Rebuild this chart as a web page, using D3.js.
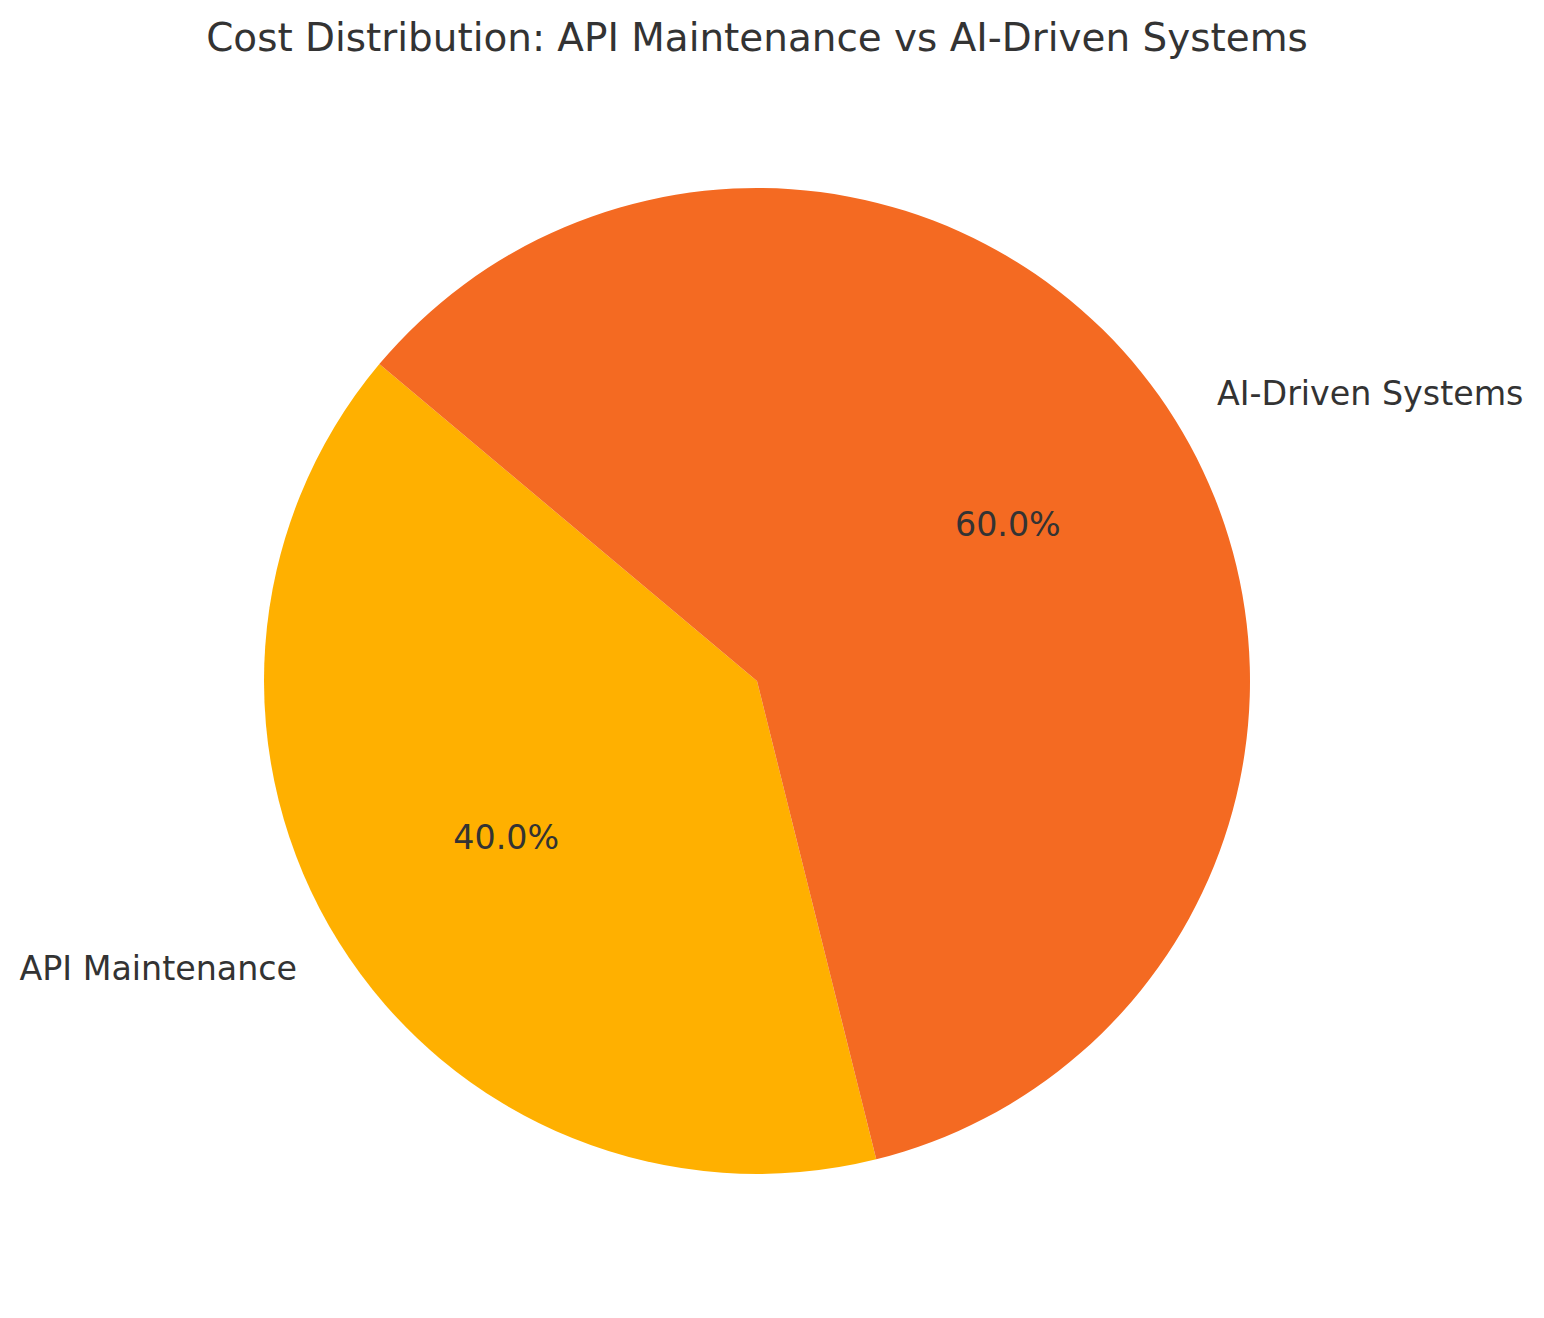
<!DOCTYPE html>
<html>
<head>
<meta charset="utf-8">
<style>
  body { margin: 0; background: #fff; }
  text { font-family: "DejaVu Sans", sans-serif; fill: #333333; }
</style>
</head>
<body>
<svg width="1544" height="1318"></svg>
<script src="https://cdn.jsdelivr.net/npm/d3@7"></script>
<script>
// data
var categories = ["API Maintenance", "AI-Driven Systems"];
var values = [40, 60];
var colors = ["#FFB000", "#F46A22"];

var svg = d3.select("svg");
var cx = 757, cy = 681, radius = 493;
var startDeg = 140; // matplotlib style start angle, counter-clockwise

svg.append("text")
  .attr("x", cx)
  .attr("y", 51)
  .attr("text-anchor", "middle")
  .style("font-size", "38.9px")
  .text("Cost Distribution: API Maintenance vs AI-Driven Systems");

// d3 angles are clockwise from 12 o'clock; matplotlib goes ccw from 3 o'clock
var total = d3.sum(values);
var toD3 = function(deg) { return (90 - deg) * Math.PI / 180; };
var slices = [];
var acc = startDeg;
values.forEach(function(v, i) {
  var span = v / total * 360;
  slices.push({ i: i, value: v, a0: acc, a1: acc + span });
  acc += span;
});

var arc = d3.arc().innerRadius(0).outerRadius(radius);
var g = svg.append("g").attr("transform", "translate(" + cx + "," + cy + ")");

g.selectAll("path")
  .data(slices)
  .enter().append("path")
  .attr("d", function(d) {
    return arc({ startAngle: toD3(d.a1), endAngle: toD3(d.a0) });
  })
  .attr("fill", function(d) { return colors[d.i]; });

function pos(d, k) {
  var m = (d.a0 + d.a1) / 2 * Math.PI / 180;
  return [Math.cos(m) * radius * k, -Math.sin(m) * radius * k];
}

// category labels
g.selectAll(".lbl")
  .data(slices)
  .enter().append("text")
  .attr("class", "lbl")
  .attr("x", function(d) { return pos(d, 1.1)[0]; })
  .attr("y", function(d) { return pos(d, 1.1)[1]; })
  .attr("dy", "0.35em")
  .attr("text-anchor", function(d) { return pos(d, 1)[0] < 0 ? "end" : "start"; })
  .style("font-size", "33.3px")
  .text(function(d) { return categories[d.i]; });

// percentages
g.selectAll(".pct")
  .data(slices)
  .enter().append("text")
  .attr("class", "pct")
  .attr("x", function(d) { return pos(d, 0.6)[0]; })
  .attr("y", function(d) { return pos(d, 0.6)[1]; })
  .attr("dy", "0.35em")
  .attr("text-anchor", "middle")
  .style("font-size", "33.3px")
  .text(function(d) { return (d.value / total * 100).toFixed(1) + "%"; });
</script>
</body>
</html>
